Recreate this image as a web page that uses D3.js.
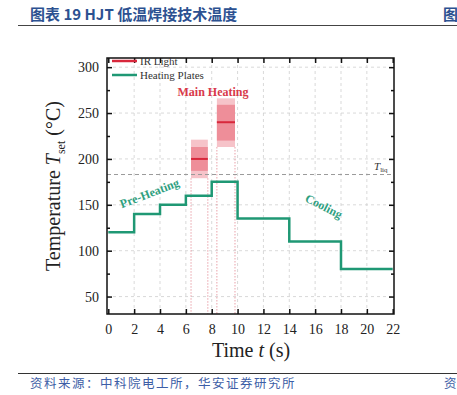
<!DOCTYPE html>
<html><head><meta charset="utf-8">
<script src="https://cdn.jsdelivr.net/npm/d3@7"></script>
<style>
body{margin:0;background:#fff;}
svg{display:block;}
</style></head>
<body>
<script>
const xTicks = [0,2,4,6,8,10,12,14,16,18,20,22];
const yTicks = [50,100,150,200,250,300];
const yMinorTicks = [75,125,175,225,275];
const plateTimes = [0,2,4,6,8,10,14,18,22];
const plateTemps = [120,140,150,160,175,135,110,80,80];
const irStart = [6.4, 8.4];
const irEnd = [7.7, 9.8];
const irCenter = [200, 240];
const irInnerLow = [187, 220];
const irInnerHigh = [213, 259];
const irOuterLow = [179, 213];
const irOuterHigh = [221, 266];
const tLiq = 183;
const legendLabels = ["IR Light", "Heating Plates"];

const W = 457, H = 395;
const red = "#d8283c", green = "#1f9874";
const svg = d3.select("body").append("svg").attr("width", W).attr("height", H);

const x = d3.scaleLinear().domain([-0.1, 22.1]).range([107, 394]);
const y = d3.scaleLinear().domain([31, 310]).range([314, 58]);
const [x0, x1] = x.range(), [y0, y1] = y.range();
const serif = "'Liberation Serif','Times New Roman',serif";

// Header
svg.append("text").attr("x", 30).attr("y", 20).attr("font-family", "'Noto Sans CJK SC',sans-serif")
  .attr("font-weight", "bold").attr("font-size", 15).attr("fill", "#2c5191").text("图表 19 HJT 低温焊接技术温度");
svg.append("text").attr("x", 443).attr("y", 20).attr("font-family", "'Noto Sans CJK SC',sans-serif")
  .attr("font-weight", "bold").attr("font-size", 15).attr("fill", "#2c5191").text("图");
svg.append("line").attr("x1", 18).attr("x2", W).attr("y1", 25.5).attr("y2", 25.5).attr("stroke", "#444").attr("stroke-width", 1.2);

// Footer
svg.append("line").attr("x1", 18).attr("x2", W).attr("y1", 373.5).attr("y2", 373.5).attr("stroke", "#333").attr("stroke-width", 1);
svg.append("text").attr("x", 30).attr("y", 388).attr("font-family", "'Noto Sans CJK SC',sans-serif")
  .attr("font-size", 12.5).attr("letter-spacing", 1.5).attr("fill", "#3d5ea6").text("资料来源：中科院电工所，华安证券研究所");
svg.append("text").attr("x", 444).attr("y", 388).attr("font-family", "'Noto Sans CJK SC',sans-serif")
  .attr("font-size", 12.5).attr("fill", "#3d5ea6").text("资");

// Grid
const grid = svg.append("g").attr("stroke", "#cfcfcf").attr("stroke-width", 0.8).attr("stroke-dasharray", "3,3");
grid.selectAll(".gx").data(xTicks.slice(1, -1)).join("line")
  .attr("x1", d => x(d)).attr("x2", d => x(d)).attr("y1", y0).attr("y2", y1);
grid.selectAll(".gy").data(yTicks).join("line")
  .attr("y1", d => y(d)).attr("y2", d => y(d)).attr("x1", x0).attr("x2", x1);

// IR boxes
const ir = d3.range(irStart.length);
const irg = svg.append("g");
irg.selectAll(".drop").data(ir.flatMap(i => [[irStart[i], irOuterLow[i]], [irEnd[i], irOuterLow[i]]])).join("line")
  .attr("x1", d => x(d[0])).attr("x2", d => x(d[0])).attr("y1", d => y(d[1])).attr("y2", y0)
  .attr("stroke", "#e48a94").attr("stroke-width", 0.8).attr("stroke-dasharray", "1.5,1.5");
irg.selectAll(".outer").data(ir).join("rect")
  .attr("x", i => x(irStart[i])).attr("width", i => x(irEnd[i]) - x(irStart[i]))
  .attr("y", i => y(irOuterHigh[i])).attr("height", i => y(irOuterLow[i]) - y(irOuterHigh[i]))
  .attr("fill", "#f6c3c9");
irg.selectAll(".inner").data(ir).join("rect")
  .attr("x", i => x(irStart[i])).attr("width", i => x(irEnd[i]) - x(irStart[i]))
  .attr("y", i => y(irInnerHigh[i])).attr("height", i => y(irInnerLow[i]) - y(irInnerHigh[i]))
  .attr("fill", "#ee8e99");
irg.selectAll(".mid").data(ir).join("line")
  .attr("x1", i => x(irStart[i])).attr("x2", i => x(irEnd[i]))
  .attr("y1", i => y(irCenter[i])).attr("y2", i => y(irCenter[i]))
  .attr("stroke", red).attr("stroke-width", 2);

// T_liq
svg.append("line").attr("x1", x0).attr("x2", x1).attr("y1", y(tLiq)).attr("y2", y(tLiq))
  .attr("stroke", "#9a9a9a").attr("stroke-width", 1).attr("stroke-dasharray", "4,3");
const tl = svg.append("text").attr("x", 374).attr("y", y(tLiq) - 5).attr("font-family", serif)
  .attr("font-size", 11).attr("fill", "#333");
tl.append("tspan").attr("font-style", "italic").text("T");
tl.append("tspan").attr("font-size", 7).attr("dy", 2).text("liq");

// Heating plates step line
const line = d3.line().x(d => x(d[0])).y(d => y(d[1])).curve(d3.curveStepAfter);
svg.append("path").datum(plateTimes.map((t, i) => [t, plateTemps[i]]))
  .attr("d", line).attr("fill", "none").attr("stroke", green).attr("stroke-width", 2.5);

// Frame
svg.append("rect").attr("x", x0).attr("y", y1).attr("width", x1 - x0).attr("height", y0 - y1)
  .attr("fill", "none").attr("stroke", "#111").attr("stroke-width", 1.5);

// Axes
const axB = svg.append("g").attr("transform", `translate(0,${y0})`)
  .call(d3.axisBottom(x).tickValues(xTicks).tickSizeInner(-5).tickSizeOuter(0).tickPadding(10));
const axT = svg.append("g").attr("transform", `translate(0,${y1})`)
  .call(d3.axisTop(x).tickValues(xTicks).tickSizeInner(-5).tickSizeOuter(0).tickFormat(""));
const axL = svg.append("g").attr("transform", `translate(${x0},0)`)
  .call(d3.axisLeft(y).tickValues(yTicks).tickSizeInner(-5).tickSizeOuter(0).tickPadding(8));
const axLm = svg.append("g").attr("transform", `translate(${x0},0)`)
  .call(d3.axisLeft(y).tickValues(yMinorTicks).tickSizeInner(-3).tickSizeOuter(0).tickFormat(""));
const axR = svg.append("g").attr("transform", `translate(${x1},0)`)
  .call(d3.axisRight(y).tickValues(yTicks).tickSizeInner(-5).tickSizeOuter(0).tickFormat(""));
const axRm = svg.append("g").attr("transform", `translate(${x1},0)`)
  .call(d3.axisRight(y).tickValues(yMinorTicks).tickSizeInner(-3).tickSizeOuter(0).tickFormat(""));
[axB, axT, axL, axLm, axR, axRm].forEach(a => {
  a.select(".domain").remove();
  a.selectAll(".tick line").attr("stroke", "#111").attr("stroke-width", 1.5);
  a.selectAll("text").attr("font-family", serif).attr("font-size", 14).attr("fill", "#222");
});

// Axis titles
const yl = svg.append("text").attr("transform", "translate(60,186) rotate(-90)").attr("text-anchor", "middle")
  .attr("font-family", serif).attr("font-size", 20).attr("fill", "#222");
yl.append("tspan").text("Temperature ");
yl.append("tspan").attr("font-style", "italic").text("T");
yl.append("tspan").attr("font-size", 12).attr("dy", 5).text("set");
yl.append("tspan").attr("dy", -5).text(" (°C)");
const xl = svg.append("text").attr("x", 251).attr("y", 357).attr("text-anchor", "middle")
  .attr("font-family", serif).attr("font-size", 20).attr("fill", "#222");
xl.append("tspan").text("Time ");
xl.append("tspan").attr("font-style", "italic").text("t");
xl.append("tspan").text(" (s)");

// Legend
const lg = svg.append("g");
const lgColors = [red, green];
lg.selectAll("line").data(legendLabels).join("line")
  .attr("x1", 112).attr("x2", 137).attr("y1", (d, i) => 61 + i * 14).attr("y2", (d, i) => 61 + i * 14)
  .attr("stroke", (d, i) => lgColors[i]).attr("stroke-width", 2.5);
lg.selectAll("text").data(legendLabels).join("text")
  .attr("x", 140).attr("y", (d, i) => 65 + i * 14).attr("font-family", serif).attr("font-size", 11)
  .attr("fill", "#333").text(d => d);

// Annotations
svg.append("text").attr("x", 213).attr("y", 96).attr("text-anchor", "middle").attr("font-family", serif)
  .attr("font-weight", "bold").attr("font-size", 12).attr("fill", "#d8394a").text("Main Heating");
svg.append("text").attr("transform", "translate(151,197) rotate(-21)").attr("text-anchor", "middle")
  .attr("font-family", serif).attr("font-weight", "bold").attr("font-size", 12).attr("fill", "#2fa07f").text("Pre-Heating");
svg.append("text").attr("transform", "translate(322,210) rotate(27)").attr("text-anchor", "middle")
  .attr("font-family", serif).attr("font-weight", "bold").attr("font-size", 12).attr("fill", "#2fa07f").text("Cooling");
</script>
</body></html>
